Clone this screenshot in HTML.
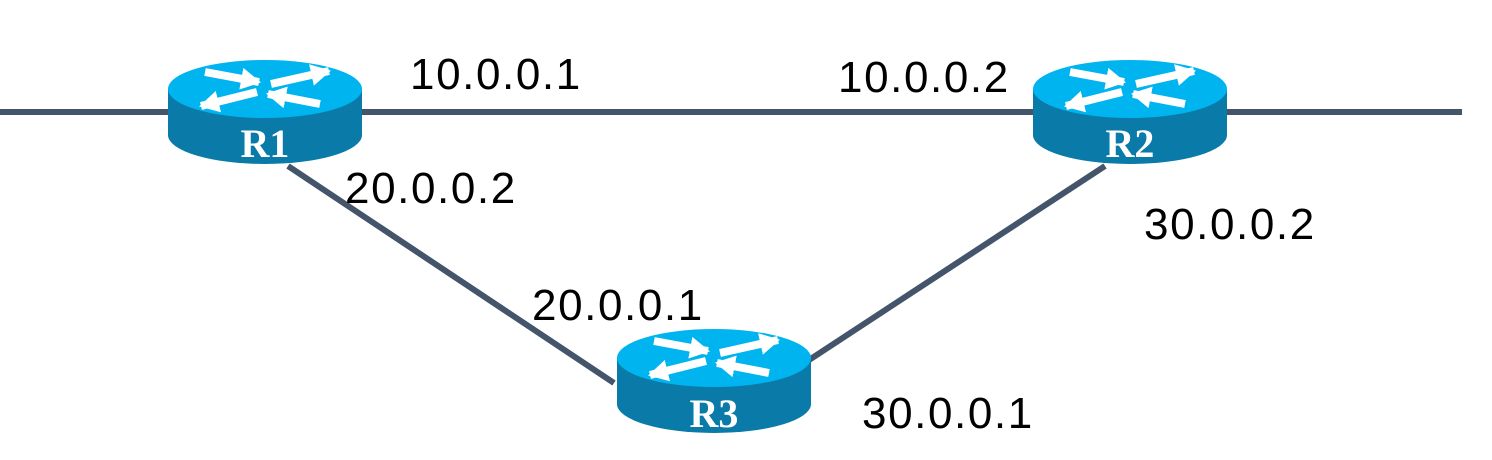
<!DOCTYPE html>
<html><head><meta charset="utf-8"><style>
html,body{margin:0;padding:0;background:#fff;}
svg{display:block;}
.t{font-family:"Liberation Sans",sans-serif;font-size:44px;letter-spacing:1.6px;fill:#000;}
.r{font-family:"Liberation Serif",serif;font-weight:bold;font-size:40px;fill:#fff;}
</style></head><body>
<svg width="1492" height="460" viewBox="0 0 1492 460">
<defs>
<marker id="ah" markerUnits="userSpaceOnUse" markerWidth="20" markerHeight="22" refX="18" refY="11" orient="auto">
<path d="M0,0 L20,11 L0,22 Z" fill="#fff"/>
</marker>
<g id="rt">
<path d="M-97,0 L-97,46 A97,29 0 0 0 97,46 L97,0 Z" fill="#0a7aa8"/>
<ellipse cx="0" cy="0" rx="97" ry="29" fill="#00b4f0"/>
<g stroke="#fff" stroke-width="8" marker-end="url(#ah)">
<line x1="-60" y1="-17" x2="-6" y2="-7"/>
<line x1="6" y1="-5" x2="64" y2="-18"/>
<line x1="-8" y1="3" x2="-64" y2="17"/>
<line x1="55" y1="15" x2="3" y2="5"/>
</g>
</g>
</defs>
<g stroke="#44546a" stroke-width="6" fill="none">
<line x1="0" y1="112" x2="1462" y2="112"/>
<line x1="288" y1="166" x2="614" y2="383"/>
<line x1="1105" y1="166" x2="806" y2="362"/>
</g>
<use href="#rt" x="265" y="89"/>
<use href="#rt" x="1130" y="89"/>
<use href="#rt" x="714" y="358"/>
<text class="r" x="265" y="157" text-anchor="middle">R1</text>
<text class="r" x="1130" y="157" text-anchor="middle">R2</text>
<text class="r" x="714" y="427" text-anchor="middle">R3</text>
<text class="t" x="410" y="89">10.0.0.1</text>
<text class="t" x="838" y="92">10.0.0.2</text>
<text class="t" x="345" y="203">20.0.0.2</text>
<text class="t" x="532" y="320">20.0.0.1</text>
<text class="t" x="1144" y="239">30.0.0.2</text>
<text class="t" x="862" y="428">30.0.0.1</text>
</svg>
</body></html>
